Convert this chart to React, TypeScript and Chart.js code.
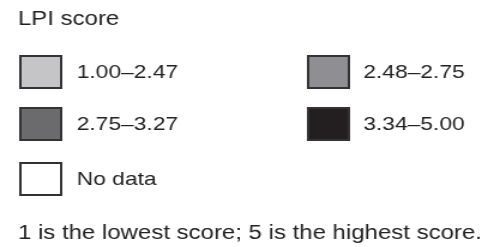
import React, { useEffect, useRef } from 'react';
import { Chart, registerables } from 'chart.js';

Chart.register(...registerables);

// ---- Data ----
const legendTitle = 'LPI score';
const classLabels = ['1.00–2.47', '2.48–2.75', '2.75–3.27', '3.34–5.00', 'No data'];
const classColors = ['#c5c5c7', '#8f8f93', '#6b6b6e', '#231f20', '#ffffff'];
const footnote = '1 is the lowest score; 5 is the highest score.';

// ---- Layout ----
const W = 488;
const H = 247;
const STRETCH = 1.2; // the reference artwork is horizontally widened
const CW = Math.round(W / STRETCH);
const FONT = '"Liberation Sans", Arial, Helvetica, sans-serif';
const TEXT = '#222222';

const gridLegend = {
  id: 'gridLegend',
  afterDraw(chart: any, _args: any, opts: any) {
    const ctx = chart.ctx as CanvasRenderingContext2D;
    ctx.save();
    chart.data.datasets.forEach((ds: any, i: number) => {
      const col = i % 2;
      const row = Math.floor(i / 2);
      const bx = opts.boxX[col];
      const by = opts.rowY[row];
      ctx.fillStyle = ds.backgroundColor;
      ctx.fillRect(bx, by, opts.boxW, opts.boxH);
      ctx.lineWidth = opts.borderWidth;
      ctx.strokeStyle = opts.borderColor;
      const hw = opts.borderWidth / 2;
      ctx.strokeRect(bx + hw, by + hw, opts.boxW - opts.borderWidth, opts.boxH - opts.borderWidth);
      ctx.fillStyle = opts.color;
      ctx.font = opts.font;
      ctx.textBaseline = 'middle';
      ctx.textAlign = 'left';
      ctx.fillText(ds.label, opts.textX[col], by + opts.boxH / 2 + 1);
    });
    ctx.restore();
  },
};

export default function App() {
  const ref = useRef<HTMLCanvasElement | null>(null);

  useEffect(() => {
    if (!ref.current) return;
    const chart = new Chart(ref.current, {
      type: 'bar',
      data: {
        labels: [''],
        datasets: classLabels.map((label, i) => ({
          label,
          data: [],
          backgroundColor: classColors[i],
        })),
      },
      options: {
        animation: false,
        responsive: false,
        devicePixelRatio: 1,
        layout: { padding: { left: 15, right: 0, top: 0, bottom: 0 } },
        scales: {
          x: { display: false },
          y: { display: false },
        },
        plugins: {
          legend: { display: false },
          tooltip: { enabled: false },
          title: {
            display: true,
            text: legendTitle,
            position: 'top',
            align: 'start',
            color: TEXT,
            font: { family: FONT, size: 20, weight: 'normal', lineHeight: 1.2 },
            padding: { top: 7, bottom: 0 },
          },
          subtitle: {
            display: true,
            text: footnote,
            position: 'bottom',
            align: 'start',
            color: TEXT,
            font: { family: FONT, size: 20, weight: 'normal', lineHeight: 1.2 },
            padding: { top: 0, bottom: 2 },
          },
          gridLegend: {
            boxX: [16, 256],
            textX: [64, 303],
            rowY: [55, 107, 162],
            boxW: 36,
            boxH: 34,
            borderWidth: 2,
            borderColor: '#333333',
            color: TEXT,
            font: `19px ${FONT}`,
          },
        } as any,
      },
      plugins: [gridLegend],
    });
    return () => chart.destroy();
  }, []);

  return (
    <div style={{ position: 'fixed', left: 0, top: 0, width: W, height: H, background: '#ffffff' }}>
      <canvas
        ref={ref}
        width={CW}
        height={H}
        style={{ width: `${W}px`, height: `${H}px`, display: 'block' }}
      />
    </div>
  );
}
